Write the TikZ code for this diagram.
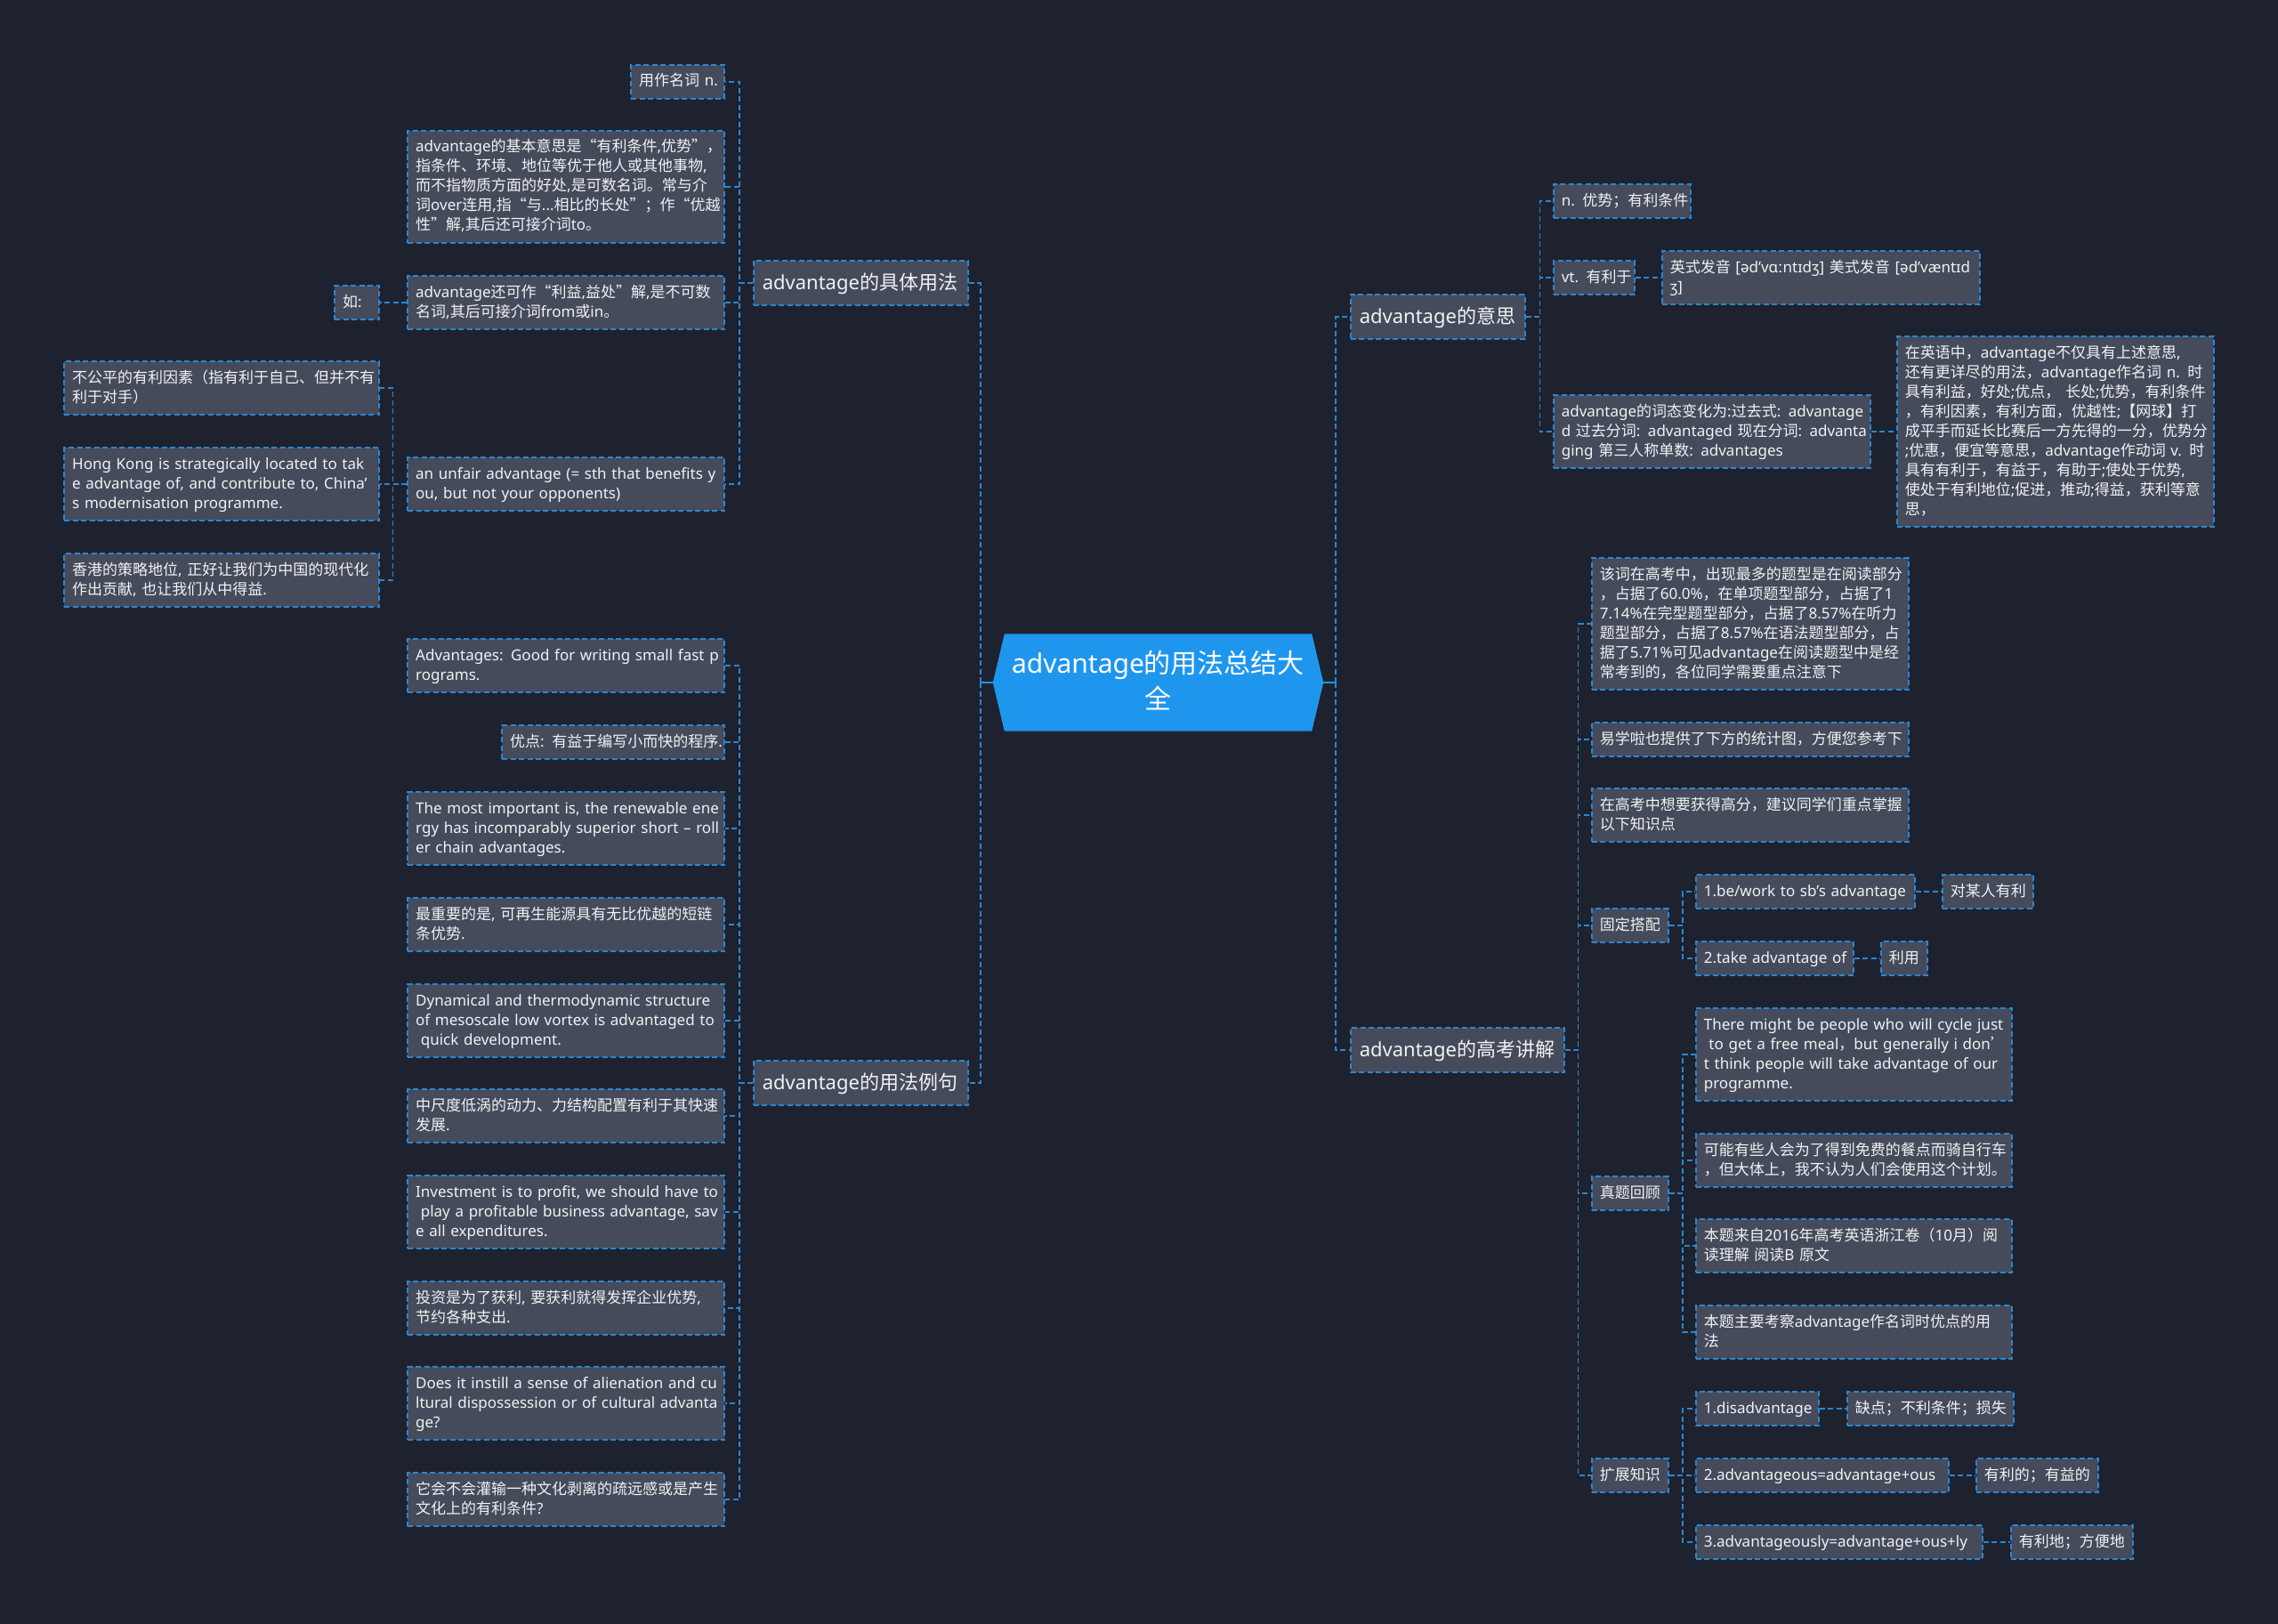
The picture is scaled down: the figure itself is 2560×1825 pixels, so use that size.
\documentclass[tikz,border=0pt]{standalone}
\usepackage{fontspec}
\setmainfont{Noto Sans}
\newfontfamily\cjkfont{Noto Sans CJK SC}
\usetikzlibrary{backgrounds}
% automatic switch to the CJK font for CJK characters
\XeTeXinterchartokenstate=1
\newXeTeXintercharclass\cjkclass
\newcount\cjkcc
\def\setcjkrange#1#2{\cjkcc=#1 \loop \XeTeXcharclass\cjkcc=\cjkclass \ifnum\cjkcc<#2 \advance\cjkcc by 1 \repeat}
\setcjkrange{"2E80}{"30FF}
\setcjkrange{"3400}{"4DBF}
\setcjkrange{"4E00}{"9FFF}
\setcjkrange{"FF00}{"FFEF}
\setcjkrange{"2018}{"2019}
\setcjkrange{"201C}{"201D}
\XeTeXinterchartoks 0 \cjkclass = {\cjkfont}
\XeTeXinterchartoks 4095 \cjkclass = {\cjkfont}
\XeTeXinterchartoks \cjkclass 0 = {\rmfamily}
\XeTeXinterchartoks \cjkclass 4095 = {\rmfamily}

\definecolor{bgc}{HTML}{1E222E}
\definecolor{nodec}{HTML}{454B5A}
\definecolor{bordc}{HTML}{2A86D4}
\definecolor{rootc}{HTML}{1F96EE}
\definecolor{txtc}{HTML}{F0F2F5}

\newcommand\Lx[1]{\mbox{\rule[-6pt]{0pt}{22pt}#1}}
\newcommand\Lb[1]{\mbox{\rule[-8pt]{0pt}{30pt}#1}}
\newcommand\Lr[1]{\mbox{\rule[-11pt]{0pt}{40pt}#1}}

\tikzset{
  boxbase/.style={draw=bordc, fill=nodec, line width=1.6pt, dash pattern=on 6pt off 3.5pt,
    text=txtc, align=left},
  lf/.style={boxbase, font=\fontsize{17}{22}\selectfont, inner xsep=9pt, inner ysep=8pt, text width=#1pt},
  br/.style={boxbase, font=\fontsize{22}{30}\selectfont, inner xsep=10pt, inner ysep=10pt, text width=#1pt},
  conn/.style={draw=bordc, line width=1.6pt, dash pattern=on 6pt off 3.5pt},
  rootline/.style={draw=rootc, line width=2.2pt},
}

\begin{document}
\begin{tikzpicture}[x=1pt,y=-1pt]
\begin{pgfonlayer}{background}
\fill[bgc] (0,0) rectangle (2560,1825);
\end{pgfonlayer}
\useasboundingbox (0,0) rectangle (2560,1825);

% ---------- root ----------
\node[minimum width=371pt, minimum height=109pt, inner sep=0pt, align=center, text=white,
  font=\fontsize{30}{40}\selectfont] (root) at (1301.5,767) {\Lr{advantage的用法总结大}\\\Lr{全}};
\begin{pgfonlayer}{background}
\fill[rootc] (root.west) -- ([xshift=13pt]root.north west) -- ([xshift=-13pt]root.north east)
  -- (root.east) -- ([xshift=-13pt]root.south east) -- ([xshift=13pt]root.south west) -- cycle;
\end{pgfonlayer}

% ---------- left branch A ----------
\node[br=221, anchor=west] (A) at (846,318) {\Lb{advantage的具体用法}};
\node[lf=87, anchor=east] (a1) at (815,92) {\Lx{用作名词 n.}};
\node[lf=338, anchor=east] (a2) at (815,210) {\Lx{advantage的基本意思是“有利条件,优势”，}\\\Lx{指条件、环境、地位等优于他人或其他事物,}\\\Lx{而不指物质方面的好处,是可数名词。常与介}\\\Lx{词over连用,指“与...相比的长处”；作“优越}\\\Lx{性”解,其后还可接介词to。}};
\node[lf=338, anchor=east] (a3) at (815,340) {\Lx{advantage还可作“利益,益处”解,是不可数}\\\Lx{名词,其后可接介词from或in。}};
\node[lf=32, anchor=east] (a3r) at (427,340) {\Lx{如:}};
\node[lf=338, anchor=east] (a4) at (815,544) {\Lx{an unfair advantage (= sth that benefits y}\\\Lx{ou, but not your opponents)}};
\node[lf=336, anchor=east] (a41) at (427,436) {\Lx{不公平的有利因素（指有利于自己、但并不有}\\\Lx{利于对手）}};
\node[lf=336, anchor=east] (a42) at (427,544) {\Lx{Hong Kong is strategically located to tak}\\\Lx{e advantage of, and contribute to, China'}\\\Lx{s modernisation programme.}};
\node[lf=336, anchor=east] (a43) at (427,652) {\Lx{香港的策略地位, 正好让我们为中国的现代化}\\\Lx{作出贡献, 也让我们从中得益.}};

% ---------- left branch B ----------
\node[br=221, anchor=west] (B) at (846,1217) {\Lb{advantage的用法例句}};
\node[lf=338, anchor=east] (b1) at (815,748) {\Lx{Advantages: Good for writing small fast p}\\\Lx{rograms.}};
\node[lf=232, anchor=east] (b2) at (815,834) {\Lx{优点: 有益于编写小而快的程序.}};
\node[lf=338, anchor=east] (b3) at (815,931) {\Lx{The most important is, the renewable ene}\\\Lx{rgy has incomparably superior short – roll}\\\Lx{er chain advantages.}};
\node[lf=338, anchor=east] (b4) at (815,1039) {\Lx{最重要的是, 可再生能源具有无比优越的短链}\\\Lx{条优势.}};
\node[lf=338, anchor=east] (b5) at (815,1147) {\Lx{Dynamical and thermodynamic structure}\\\Lx{of mesoscale low vortex is advantaged to}\\\Lx{\ quick development.}};
\node[lf=338, anchor=east] (b6) at (815,1254) {\Lx{中尺度低涡的动力、力结构配置有利于其快速}\\\Lx{发展.}};
\node[lf=338, anchor=east] (b7) at (815,1362) {\Lx{Investment is to profit, we should have to}\\\Lx{\ play a profitable business advantage, sav}\\\Lx{e all expenditures.}};
\node[lf=338, anchor=east] (b8) at (815,1470) {\Lx{投资是为了获利, 要获利就得发挥企业优势,}\\\Lx{节约各种支出.}};
\node[lf=338, anchor=east] (b9) at (815,1577) {\Lx{Does it instill a sense of alienation and cu}\\\Lx{ltural dispossession or of cultural advanta}\\\Lx{ge?}};
\node[lf=338, anchor=east] (b10) at (815,1685) {\Lx{它会不会灌输一种文化剥离的疏远感或是产生}\\\Lx{文化上的有利条件?}};

% ---------- right branch C ----------
\node[br=176, anchor=west] (C) at (1517,356) {\Lb{advantage的意思}};
\node[lf=136, anchor=west] (c1) at (1745,226) {\Lx{n. 优势；有利条件}};
\node[lf=73, anchor=west] (c2) at (1745,312) {\Lx{vt. 有利于}};
\node[lf=339, anchor=west] (c21) at (1867,312) {\Lx{英式发音 [əd'vɑːntɪdʒ] 美式发音 [əd'væntɪd}\\\Lx{ʒ]}};
\node[lf=338, anchor=west] (c3) at (1745,485) {\Lx{advantage的词态变化为:过去式: advantage}\\\Lx{d 过去分词: advantaged 现在分词: advanta}\\\Lx{ging 第三人称单数: advantages}};
\node[lf=338, anchor=west] (c31) at (2131,485) {\Lx{在英语中，advantage不仅具有上述意思,}\\\Lx{还有更详尽的用法，advantage作名词 n. 时}\\\Lx{具有利益，好处;优点， 长处;优势，有利条件}\\\Lx{，有利因素，有利方面，优越性;【网球】打}\\\Lx{成平手而延长比赛后一方先得的一分，优势分}\\\Lx{;优惠，便宜等意思，advantage作动词 v. 时}\\\Lx{具有有利于，有益于，有助于;使处于优势,}\\\Lx{使处于有利地位;促进，推动;得益，获利等意}\\\Lx{思，}};

% ---------- right branch D ----------
\node[br=220, anchor=west] (D) at (1517,1180) {\Lb{advantage的高考讲解}};
\node[lf=338, anchor=west] (d1) at (1788,701) {\Lx{该词在高考中，出现最多的题型是在阅读部分}\\\Lx{，占据了60.0\%，在单项题型部分，占据了1}\\\Lx{7.14\%在完型题型部分，占据了8.57\%在听力}\\\Lx{题型部分，占据了8.57\%在语法题型部分，占}\\\Lx{据了5.71\%可见advantage在阅读题型中是经}\\\Lx{常考到的，各位同学需要重点注意下}};
\node[lf=338, anchor=west] (d2) at (1788,831) {\Lx{易学啦也提供了下方的统计图，方便您参考下}};
\node[lf=338, anchor=west] (d3) at (1788,916) {\Lx{在高考中想要获得高分，建议同学们重点掌握}\\\Lx{以下知识点}};
\node[lf=68, anchor=west] (d4) at (1788,1040) {\Lx{固定搭配}};
\node[lf=228, anchor=west] (d41) at (1905,1002) {\Lx{1.be/work to sb's advantage}};
\node[lf=84, anchor=west] (d411) at (2182,1002) {\Lx{对某人有利}};
\node[lf=159, anchor=west] (d42) at (1905,1077) {\Lx{2.take advantage of}};
\node[lf=34, anchor=west] (d421) at (2113,1077) {\Lx{利用}};
\node[lf=68, anchor=west] (d5) at (1788,1341) {\Lx{真题回顾}};
\node[lf=337, anchor=west] (d51) at (1905,1185) {\Lx{There might be people who will cycle just}\\\Lx{\ to get a free meal，but generally i don’}\\\Lx{t think people will take advantage of our}\\\Lx{programme.}};
\node[lf=337, anchor=west] (d52) at (1905,1304) {\Lx{可能有些人会为了得到免费的餐点而骑自行车}\\\Lx{，但大体上，我不认为人们会使用这个计划。}};
\node[lf=337, anchor=west] (d53) at (1905,1400) {\Lx{本题来自2016年高考英语浙江卷（10月）阅}\\\Lx{读理解 阅读B 原文}};
\node[lf=337, anchor=west] (d54) at (1905,1497) {\Lx{本题主要考察advantage作名词时优点的用}\\\Lx{法}};
\node[lf=68, anchor=west] (d6) at (1788,1658) {\Lx{扩展知识}};
\node[lf=120, anchor=west] (d61) at (1905,1583) {\Lx{1.disadvantage}};
\node[lf=169, anchor=west] (d611) at (2075,1583) {\Lx{缺点；不利条件；损失}};
\node[lf=266, anchor=west] (d62) at (1905,1658) {\Lx{2.advantageous=advantage+ous}};
\node[lf=119, anchor=west] (d621) at (2220,1658) {\Lx{有利的；有益的}};
\node[lf=304, anchor=west] (d63) at (1905,1733) {\Lx{3.advantageously=advantage+ous+ly}};
\node[lf=119, anchor=west] (d631) at (2259,1733) {\Lx{有利地；方便地}};

% ---------- connectors ----------
\draw[rootline] (root.west) -- ++(-14,0) coordinate (lt);
\draw[rootline] (root.east) -- ++(14,0) coordinate (rt);
\draw[conn] (lt) |- (A.east);
\draw[conn] (lt) |- (B.east);
\draw[conn] (rt) |- (C.west);
\draw[conn] (rt) |- (D.west);

\foreach \n in {a1,a2,a3,a4}{\draw[conn] (A.west) -- ++(-15,0) |- (\n.east);}
\draw[conn] (a3.west) -- (a3r.east);
\foreach \n in {a41,a42,a43}{\draw[conn] (a4.west) -- ++(-16,0) |- (\n.east);}
\foreach \n in {b1,b2,b3,b4,b5,b6,b7,b8,b9,b10}{\draw[conn] (B.west) -- ++(-15,0) |- (\n.east);}

\foreach \n in {c1,c2,c3}{\draw[conn] (C.east) -- ++(16,0) |- (\n.west);}
\draw[conn] (c2.east) -- (c21.west);
\draw[conn] (c3.east) -- (c31.west);

\foreach \n in {d1,d2,d3,d4,d5,d6}{\draw[conn] (D.east) -- ++(15,0) |- (\n.west);}
\foreach \n in {d41,d42}{\draw[conn] (d4.east) -- ++(15.5,0) |- (\n.west);}
\draw[conn] (d41.east) -- (d411.west);
\draw[conn] (d42.east) -- (d421.west);
\foreach \n in {d51,d52,d53,d54}{\draw[conn] (d5.east) -- ++(15.5,0) |- (\n.west);}
\foreach \n in {d61,d62,d63}{\draw[conn] (d6.east) -- ++(15.5,0) |- (\n.west);}
\draw[conn] (d61.east) -- (d611.west);
\draw[conn] (d62.east) -- (d621.west);
\draw[conn] (d63.east) -- (d631.west);
\end{tikzpicture}
\end{document}
